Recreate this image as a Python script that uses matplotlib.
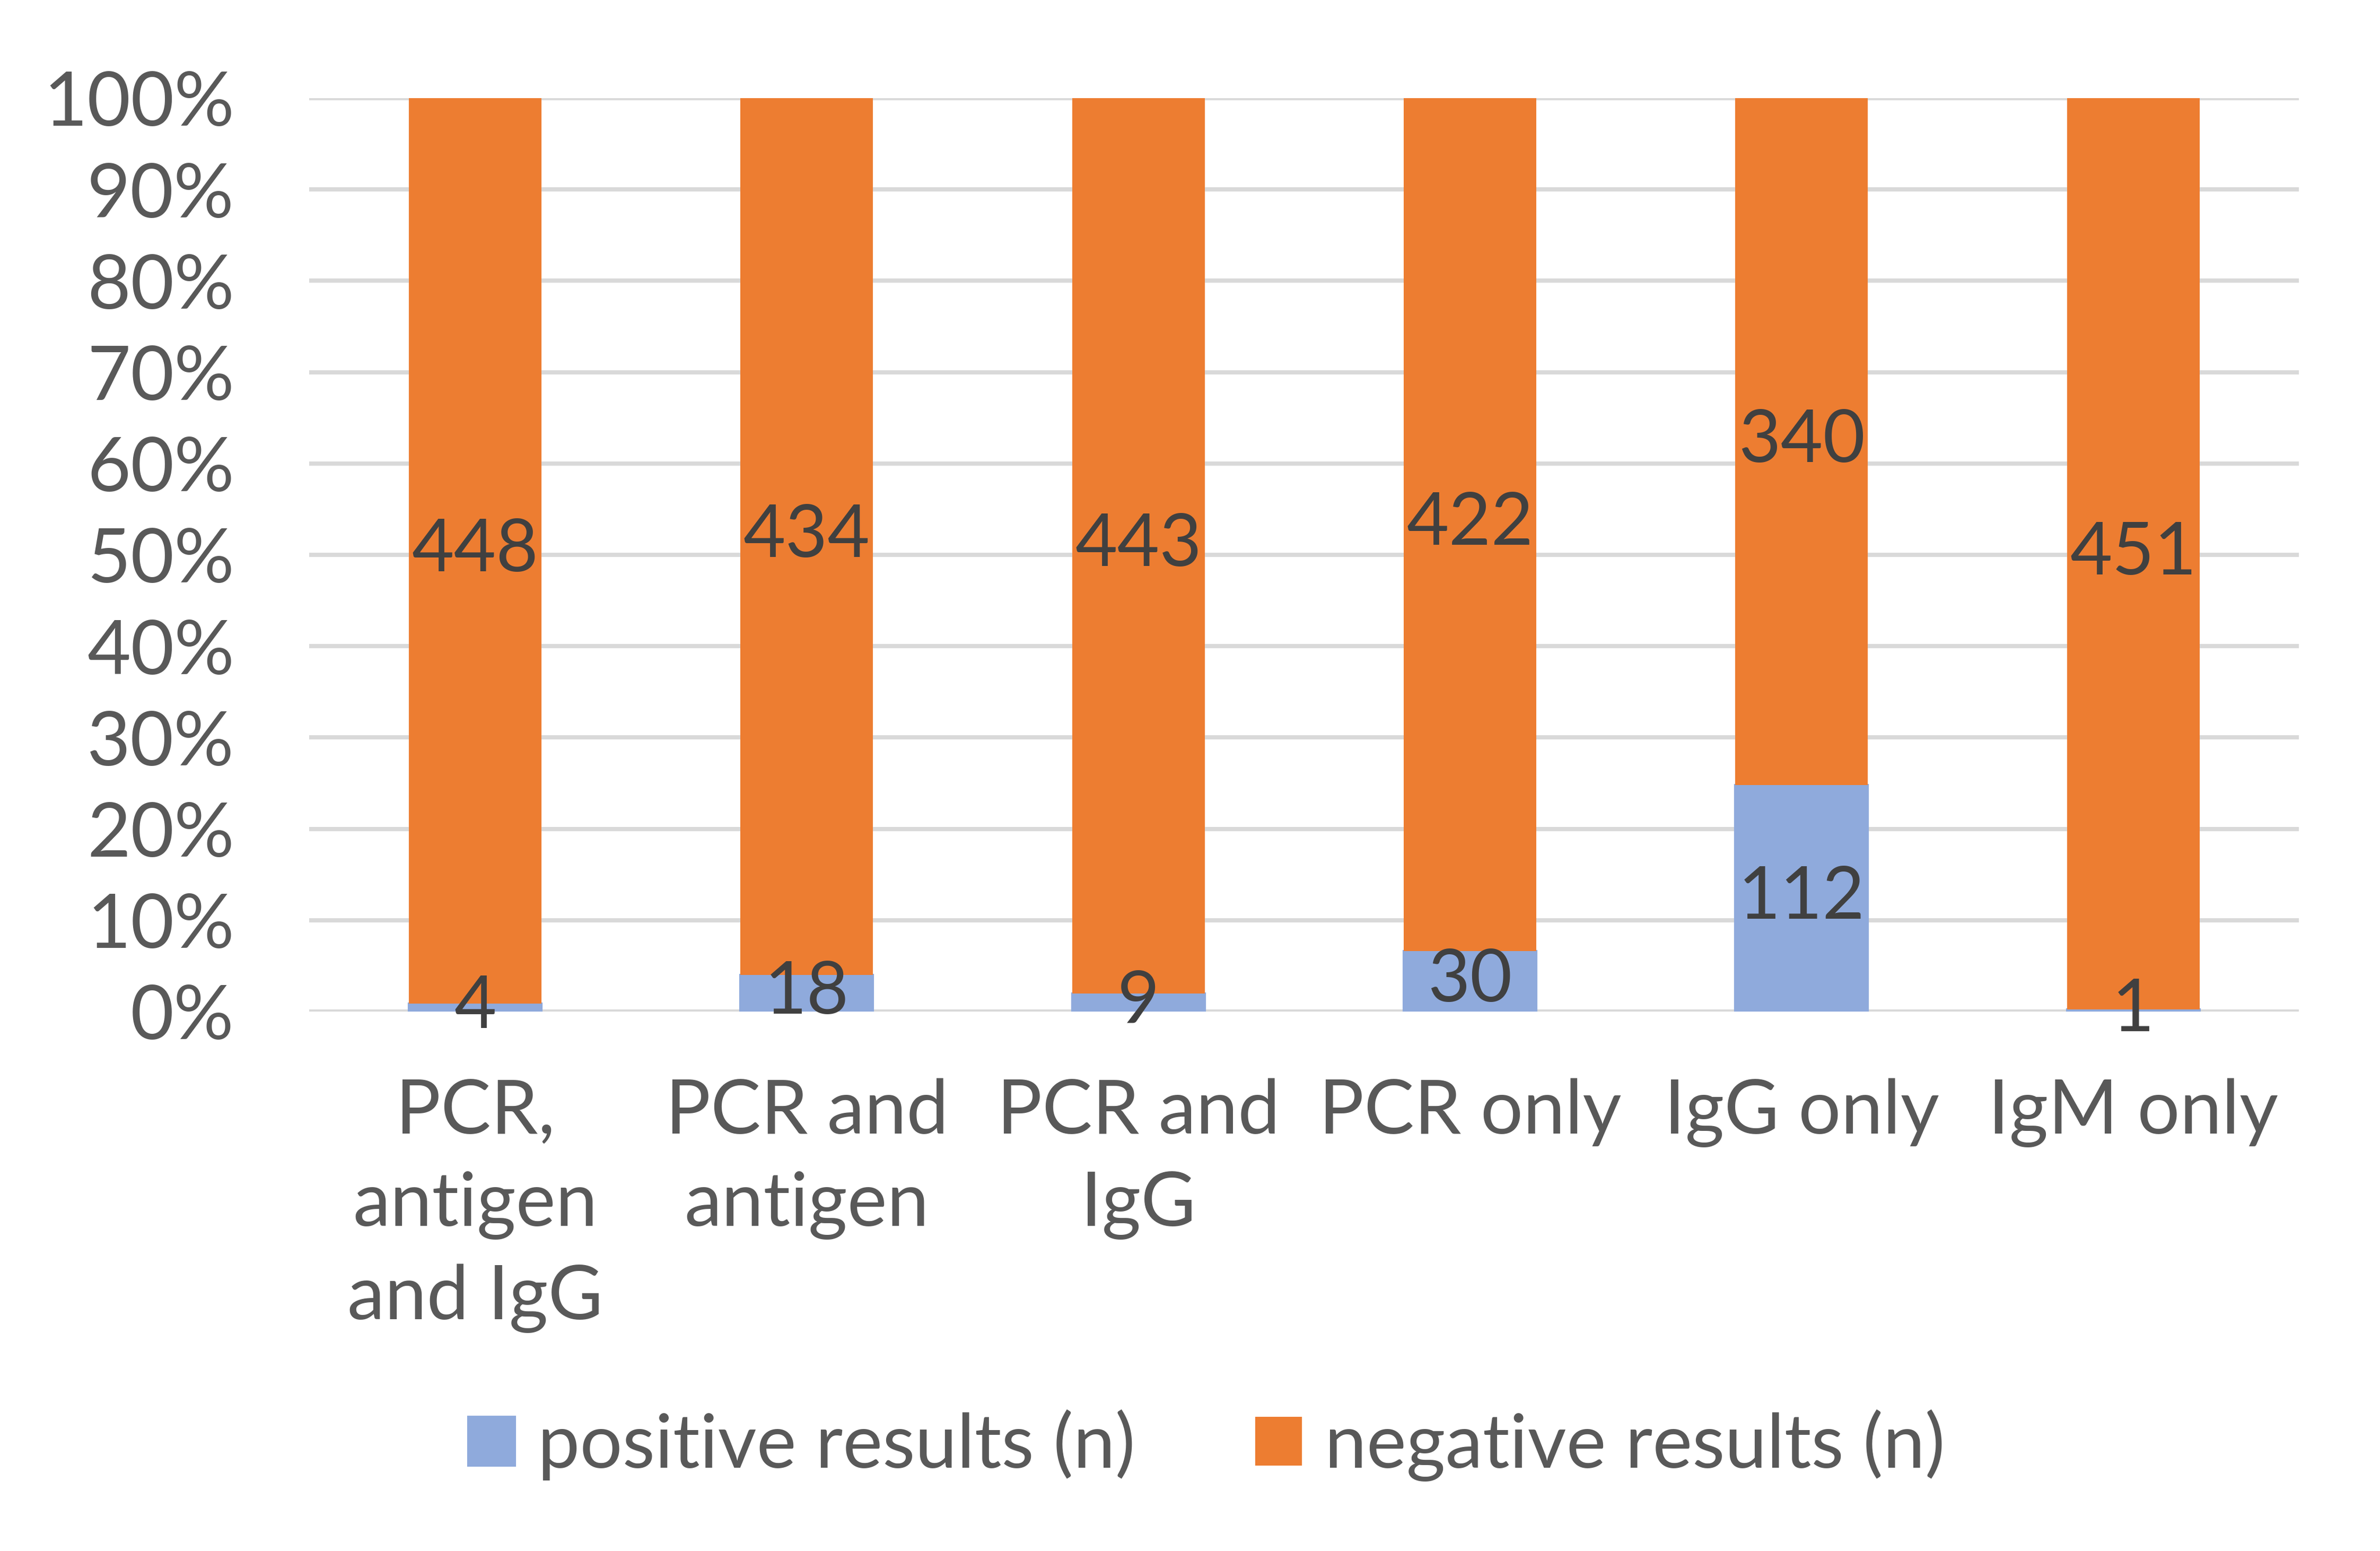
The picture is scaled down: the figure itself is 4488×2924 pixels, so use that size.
import matplotlib
matplotlib.use("Agg")
import matplotlib.pyplot as plt
import numpy as np
from matplotlib.ticker import PercentFormatter

# data
categories = ["PCR,\nantigen\nand IgG", "PCR and\nantigen", "PCR and\nIgG",
              "PCR only", "IgG only", "IgM only"]
positive = [4, 18, 9, 30, 112, 1]
negative = [448, 434, 443, 422, 340, 451]

POS_COLOR = "#8FAADC"
NEG_COLOR = "#ED7D31"
TEXT_COLOR = "#595959"
LABEL_COLOR = "#404040"

plt.rcParams['font.family'] = ['Lato', 'DejaVu Sans']

pos = np.array(positive, dtype=float)
neg = np.array(negative, dtype=float)
total = pos + neg
pos_pct = pos / total * 100
neg_pct = neg / total * 100
x = np.arange(len(categories))

fig = plt.figure(figsize=(14.96, 9.7467), dpi=300)
ax = fig.add_axes([0.130, 0.3478, 0.836, 0.5889])

ax.set_axisbelow(True)
ax.yaxis.grid(True, color="#D9D9D9", linewidth=1.9)
bars_pos = ax.bar(x, pos_pct, width=0.40, color=POS_COLOR, edgecolor=POS_COLOR,
                  linewidth=1.0, label="positive results (n)")
bars_neg = ax.bar(x, neg_pct, width=0.40, bottom=pos_pct, color=NEG_COLOR,
                  label="negative results (n)")

ax.bar_label(bars_pos, labels=[str(v) for v in positive], label_type="center",
             fontsize=33, color=LABEL_COLOR)
ax.bar_label(bars_neg, labels=[str(v) for v in negative], label_type="center",
             fontsize=33, color=LABEL_COLOR)

ax.set_xlim(-0.5, len(categories) - 0.5)
ax.set_ylim(0, 100)
ax.set_yticks(np.arange(0, 101, 10))
ax.yaxis.set_major_formatter(PercentFormatter(decimals=0))
ax.set_xticks(x)
ax.set_xticklabels(categories, linespacing=1.44)
ax.tick_params(axis="both", length=0, labelsize=34, colors=TEXT_COLOR)
ax.tick_params(axis="x", pad=30)
ax.tick_params(axis="y", pad=34)
for side in ["top", "right", "left", "bottom"]:
    ax.spines[side].set_visible(False)

fig.legend(handles=[bars_pos, bars_neg], loc="center", bbox_to_anchor=(0.507, 0.068),
           ncol=2, frameon=False, fontsize=34, labelcolor=TEXT_COLOR,
           handlelength=0.62, handleheight=0.62, handletextpad=0.3, columnspacing=1.6)

plt.savefig("out.png", dpi=300)
plt.close()
